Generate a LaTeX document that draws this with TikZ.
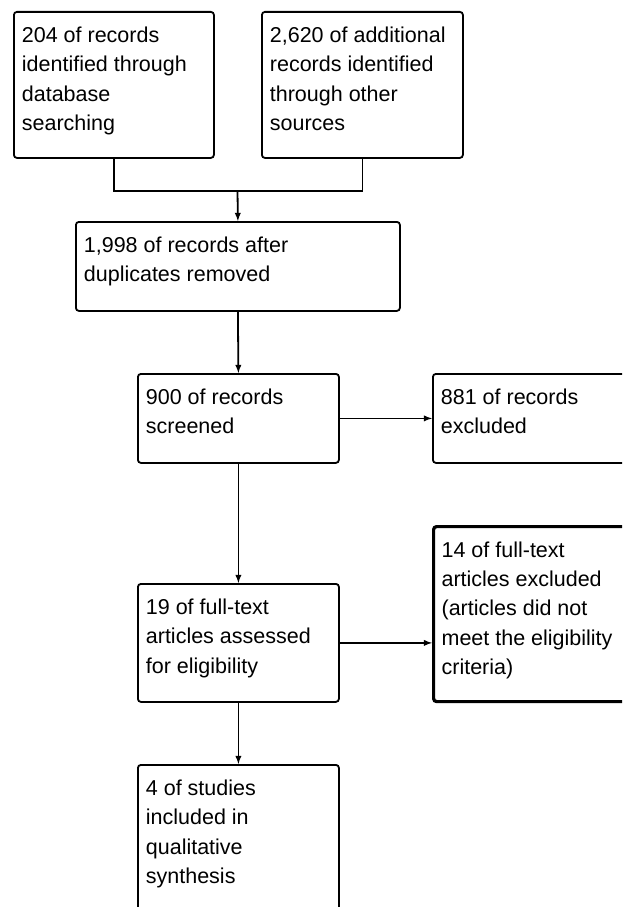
\documentclass[tikz,border=0pt]{standalone}
\usepackage{fontspec}
\setmainfont{Liberation Sans}
\usepackage{tikz}
\usetikzlibrary{positioning}

\newcommand{\boxtext}[3]{\parbox[t][#2pt][t]{#1pt}{\raggedright\leftskip=8pt\fontsize{21.5}{29.3}\selectfont\vspace*{10pt}\strut #3}}
\tikzset{
  box/.style={draw, rounded corners=3pt, line width=1.8pt, anchor=north west, inner sep=0pt},
  link/.style={line width=1.8pt},
  arrow/.style={-latex, line width=1.8pt}
}

\begin{document}
\begin{tikzpicture}[x=1pt, y=-1pt]
            \useasboundingbox (0,0) rectangle (622,907);
            \clip (0,0) rectangle (622,907);
            \node[box] (dbrec) at (13,11) {\boxtext{200}{146}{204 of records\\identified through\\database\\searching}};
            \node[box] (otherrec) at (261,11) {\boxtext{201}{146}{2,620 of additional\\records identified\\through other\\sources}};
            \node[box] (dedup) at (75,221) {\boxtext{324}{89}{1,998 of records after\\duplicates removed}};
            \node[box] (screened) at (137,373) {\boxtext{201}{89}{900 of records\\screened}};
            \node[box] (excluded) at (432,373) {\boxtext{220}{89}{881 of records\\excluded}};
            \node[box] (assessed) at (137,583) {\boxtext{201}{118}{19 of full-text\\articles assessed\\for eligibility}};
            \node[box, line width=3.2pt] (ftexcl) at (432,525) {\boxtext{220}{175}{14 of full-text\\articles excluded\\(articles did not\\meet the eligibility\\criteria)}};
            \node[box] (included) at (137,764) {\boxtext{201}{160}{4 of studies\\included in\\qualitative\\synthesis}};
            \coordinate (merge) at (237.5,191);
            \draw[link] (dbrec.south) |- (merge) -| (otherrec.south);
            \draw[arrow] (merge) -- (dedup.north);
            \draw[arrow] (dedup.south) -- (screened.north);
            \draw[arrow] (screened.east) -- (excluded.west);
            \draw[arrow] (screened.south) -- (assessed.north);
            \draw[arrow] (assessed.east) -- (assessed.east -| ftexcl.west);
            \draw[arrow] (assessed.south) -- (included.north);
        \end{tikzpicture}
\end{document}
